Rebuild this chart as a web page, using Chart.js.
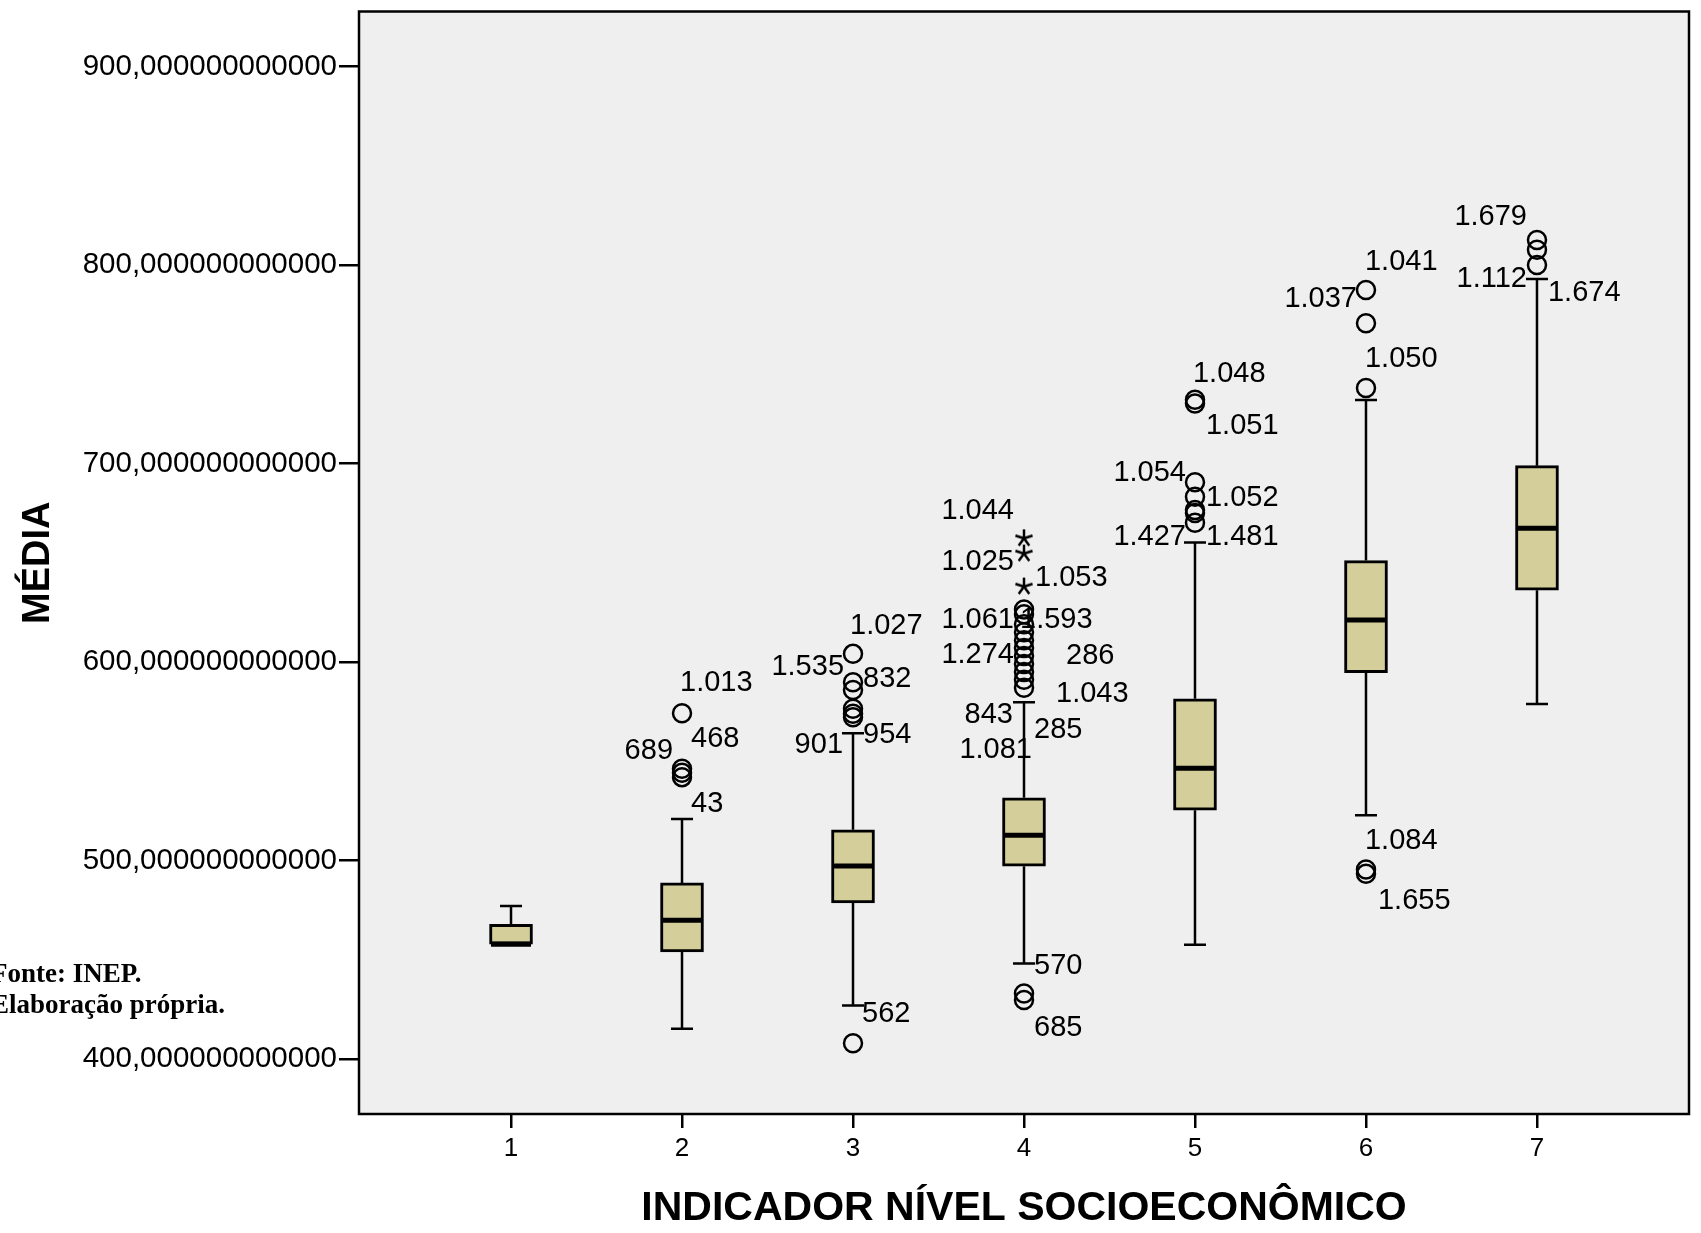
<!DOCTYPE html>
<html>
<head>
<meta charset="utf-8">
<script src="https://cdn.jsdelivr.net/npm/chart.js@4"></script>
<style>
  body { margin: 0; background: #fff; }
  canvas { display: block; }
</style>
</head>
<body>
<canvas id="chart" width="1701" height="1233"></canvas>
<script>
// group values (INDICADOR NÍVEL SOCIOECONÔMICO 1..7)
const categories = [1, 2, 3, 4, 5, 6, 7];
const whiskerLow = [457.8, 415.3, 427.0, 448.1, 457.6, 522.8, 578.8];
const q1 = [457.8, 454.0, 478.6, 497.1, 525.3, 594.6, 636.2];
const median = [457.8, 469.9, 497.2, 512.7, 546.5, 621.2, 667.4];
const q3 = [467.8, 488.7, 515.5, 531.6, 581.5, 651.1, 698.9];
const whiskerHigh = [477.1, 520.9, 564.1, 579.7, 660.2, 732.0, 793.0];

// outliers (circles) and their case labels
const outlierValues = [
  [],
  [574.2, 546.2, 544.2, 542.0],
  [604.1, 589.8, 585.9, 576.4, 573.9, 572.2, 407.9],
  [626.5, 624.0, 619.0, 615.0, 611.0, 607.0, 603.0, 599.0, 595.0, 591.0, 587.0, 433.0, 429.7],
  [732.1, 730.2, 690.6, 683.2, 676.6, 675.1, 670.1],
  [787.4, 770.7, 738.0, 495.5, 493.3],
  [812.6, 807.7, 800.0]
];
const outlierIds = [
  [],
  ["1.013", "468", "689", "43"],
  ["1.027", "1.535", "832", "", "901", "954", "562"],
  ["1.061", "1.593", "", "1.274", "286", "", "1.043", "", "843", "285", "1.081", "570", "685"],
  ["1.048", "1.051", "1.054", "1.052", "", "1.427", "1.481"],
  ["1.041", "1.037", "1.050", "1.084", "1.655"],
  ["1.679", "1.112", "1.674"]
];

// extremes (stars)
const extremeValues = [[], [], [], [662.3, 654.6, 638.0], [], [], []];
const extremeIds = [[], [], [], ["1.044", "1.025", "1.053"], [], [], []];

const yTicks = [400, 500, 600, 700, 800, 900];

// label offsets in px from the point: [dx, dy, align]
const labelPlacement = {
  "1.013": [-2, -30, "left"], "468": [9, -30, "left"], "689": [-9, -22, "right"], "43": [9, 27, "left"],
  "1.027": [-3, -28, "left"], "1.535": [-9, -15, "right"], "832": [10, -11, "left"],
  "901": [-10, 31, "right"], "954": [10, 18, "left"], "562": [9, -29, "left"],
  "1.044": [-10, -27, "right"], "1.025": [-10, 8, "right"], "1.053": [11, -9, "left"],
  "1.061": [-10, 11, "right"], "1.593": [-4, 6, "left"], "1.274": [-10, 23, "right"],
  "286": [42, 16, "left"], "1.043": [32, 38, "left"], "843": [-11, 43, "right"],
  "285": [10, 50, "left"], "1.081": [8, 62, "right"], "570": [10, -28, "left"], "685": [10, 28, "left"],
  "1.048": [-2, -26, "left"], "1.051": [11, 22, "left"], "1.054": [-9, -9, "right"],
  "1.052": [11, 1, "left"], "1.427": [-9, 24, "right"], "1.481": [11, 14, "left"],
  "1.041": [-1, -28, "left"], "1.037": [-9, -24, "right"], "1.050": [-1, -29, "left"],
  "1.084": [-1, -28, "left"], "1.655": [12, 27, "left"],
  "1.679": [-10, -23, "right"], "1.112": [-10, 29, "right"], "1.674": [11, 28, "left"]
};

const SANS = '"Liberation Sans", Arial, sans-serif';
const BOX_FILL = "#D4CF9A";

function toPoints(values, ids) {
  const pts = [];
  values.forEach((vals, i) => {
    vals.forEach((v, j) => pts.push({ x: categories[i], y: v, id: ids[i][j] }));
  });
  return pts;
}

// 5-arm asterisk used by SPSS for extreme values
function makeStar() {
  const c = document.createElement("canvas");
  c.width = 22;
  c.height = 22;
  const g = c.getContext("2d");
  g.strokeStyle = "#000";
  g.lineWidth = 2.5;
  g.beginPath();
  for (let k = 0; k < 5; k++) {
    const a = Math.PI / 2 + (k * 2 * Math.PI) / 5;
    g.moveTo(11, 11);
    g.lineTo(11 + 9 * Math.cos(a), 11 - 9 * Math.sin(a));
  }
  g.stroke();
  return c;
}

const plotBackground = {
  id: "plotBackground",
  beforeDraw(chart) {
    const { ctx, chartArea: a } = chart;
    ctx.save();
    ctx.fillStyle = "#EFEFEF";
    ctx.fillRect(a.left, a.top, a.right - a.left, a.bottom - a.top);
    ctx.restore();
  },
  afterDraw(chart) {
    const { ctx, chartArea: a } = chart;
    ctx.save();
    ctx.strokeStyle = "#000";
    ctx.lineWidth = 2.5;
    ctx.strokeRect(a.left, a.top, a.right - a.left, a.bottom - a.top);
    // source note
    ctx.fillStyle = "#000";
    ctx.font = 'bold 27px "Liberation Serif", "Times New Roman", serif';
    ctx.textAlign = "left";
    ctx.textBaseline = "alphabetic";
    ctx.fillText("Fonte: INEP.", -9, 982);
    ctx.fillText("Elaboração própria.", -9, 1013);
    ctx.restore();
  }
};

const whiskers = {
  id: "whiskers",
  beforeDatasetsDraw(chart) {
    const { ctx, scales: { x, y } } = chart;
    ctx.save();
    ctx.strokeStyle = "#000";
    ctx.lineWidth = 2.5;
    categories.forEach((c, i) => {
      const px = x.getPixelForValue(c);
      const yl = y.getPixelForValue(whiskerLow[i]);
      const yh = y.getPixelForValue(whiskerHigh[i]);
      ctx.beginPath();
      ctx.moveTo(px, yl);
      ctx.lineTo(px, y.getPixelForValue(q1[i]));
      ctx.moveTo(px, y.getPixelForValue(q3[i]));
      ctx.lineTo(px, yh);
      ctx.moveTo(px - 11, yl);
      ctx.lineTo(px + 11, yl);
      ctx.moveTo(px - 11, yh);
      ctx.lineTo(px + 11, yh);
      ctx.stroke();
    });
    ctx.restore();
  },
  afterDatasetsDraw(chart) {
    const { ctx, scales: { x, y } } = chart;
    ctx.save();
    ctx.strokeStyle = "#000";
    ctx.lineWidth = 5;
    categories.forEach((c, i) => {
      const px = x.getPixelForValue(c);
      const ym = y.getPixelForValue(median[i]);
      ctx.beginPath();
      ctx.moveTo(px - 20, ym);
      ctx.lineTo(px + 20, ym);
      ctx.stroke();
    });
    // case labels next to outliers
    ctx.fillStyle = "#000";
    ctx.font = "29px " + SANS;
    ctx.textBaseline = "middle";
    chart.data.datasets.forEach((ds, di) => {
      if (ds.type !== "scatter") return;
      chart.getDatasetMeta(di).data.forEach((pt, k) => {
        const id = ds.data[k].id;
        if (!id) return;
        const p = labelPlacement[id];
        ctx.textAlign = p[2];
        ctx.fillText(id, pt.x + p[0], pt.y + p[1]);
      });
    });
    ctx.restore();
  }
};

const ctx = document.getElementById("chart").getContext("2d");

new Chart(ctx, {
  type: "bar",
  data: {
    datasets: [
      {
        type: "scatter",
        data: toPoints(outlierValues, outlierIds),
        pointStyle: "circle",
        pointRadius: 9,
        pointBorderWidth: 2.5,
        pointBorderColor: "#000",
        pointBackgroundColor: "rgba(0,0,0,0)"
      },
      {
        type: "scatter",
        data: toPoints(extremeValues, extremeIds),
        pointStyle: makeStar(),
        pointRadius: 9
      },
      {
        type: "bar",
        data: categories.map((c, i) => ({ x: c, y: [q1[i], q3[i]] })),
        backgroundColor: BOX_FILL,
        borderColor: "#000",
        borderWidth: 3,
        borderSkipped: false,
        barThickness: 43
      }
    ]
  },
  options: {
    responsive: false,
    animation: false,
    events: [],
    layout: { padding: { top: 10, right: 12, left: 0, bottom: 0 } },
    plugins: {
      legend: { display: false },
      tooltip: { enabled: false }
    },
    scales: {
      x: {
        type: "linear",
        min: 0.111,
        max: 7.889,
        offset: false,
        grid: {
          offset: false,
          drawOnChartArea: false,
          drawTicks: true,
          tickLength: 14,
          color: "#000",
          lineWidth: 2.5
        },
        border: { display: false },
        ticks: {
          stepSize: 1,
          includeBounds: false,
          autoSkip: false,
          maxRotation: 0,
          padding: 5,
          color: "#000",
          font: { family: SANS, size: 26 }
        },
        title: {
          display: true,
          text: "INDICADOR NÍVEL SOCIOECONÔMICO",
          color: "#000",
          font: { family: SANS, size: 41, weight: "bold" },
          padding: { top: 0, bottom: 0 }
        },
        afterFit(scale) {
          scale.height = 119;
          scale.paddingLeft = 0;
          scale.paddingRight = 0;
        }
      },
      y: {
        type: "linear",
        min: 372.3,
        max: 927.7,
        grid: {
          drawOnChartArea: false,
          drawTicks: true,
          tickLength: 20,
          color: "#000",
          lineWidth: 2.5
        },
        border: { display: false },
        afterBuildTicks(scale) {
          scale.ticks = yTicks.map((v) => ({ value: v }));
        },
        ticks: {
          padding: 2,
          color: "#000",
          font: { family: SANS, size: 29.5 },
          callback: (v) => v.toFixed(12).replace(".", ",")
        },
        title: {
          display: true,
          text: "MÉDIA",
          color: "#000",
          font: { family: SANS, size: 38, weight: "bold" },
          padding: { top: 16, bottom: 0 }
        },
        afterFit(scale) {
          scale.width = 359;
          scale.paddingTop = 0;
          scale.paddingBottom = 0;
        }
      }
    }
  },
  plugins: [plotBackground, whiskers]
});
</script>
</body>
</html>
